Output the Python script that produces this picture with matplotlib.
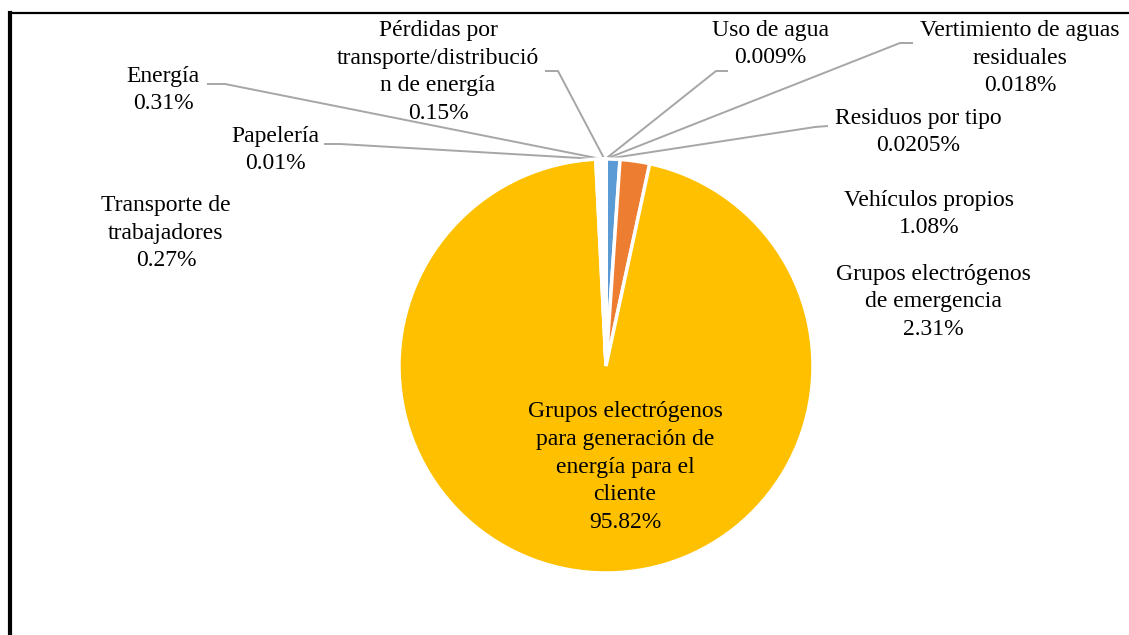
import matplotlib
matplotlib.use("Agg")
import matplotlib.pyplot as plt
import numpy as np

labels = ["Vehículos propios", "Grupos electrógenos\nde emergencia",
          "Grupos electrógenos\npara generación de\nenergía para el\ncliente",
          "Transporte de\ntrabajadores", "Papelería", "Energía",
          "Pérdidas por\ntransporte/distribució\nn de energía",
          "Uso de agua", "Vertimiento de aguas\nresiduales", "Residuos por tipo"]
values = [1.08, 2.31, 95.82, 0.27, 0.01, 0.31, 0.15, 0.009, 0.018, 0.0205]
pct_text = ["1.08%", "2.31%", "95.82%", "0.27%", "0.01%", "0.31%", "0.15%",
            "0.009%", "0.018%", "0.0205%"]
colors = ["#5B9BD5", "#ED7D31", "#FFC000", "white", "white", "white", "white",
          "white", "white", "white"]

W, H = 1129, 635
fig = plt.figure(figsize=(W / 100, H / 100), dpi=100)
ax = fig.add_axes([0, 0, 1, 1])
ax.set_xlim(0, W)
ax.set_ylim(0, H)
ax.set_aspect("equal")
ax.axis("off")

def P(x, y):
    return x, H - y

cx, cy = P(606, 366)
R = 207
wedges, _ = ax.pie(values, colors=colors, startangle=90, counterclock=False,
                   center=(cx, cy), radius=R,
                   wedgeprops=dict(edgecolor="white", linewidth=2.5))
ax.set_xlim(0, W)
ax.set_ylim(0, H)

font = dict(family="Liberation Serif", fontsize=17, color="#000000",
            ha="center", va="center", linespacing=1.42)

# label centres (pixel coords)
label_pos = {
    0: (929, 214), 1: (933, 302), 2: (625, 467), 3: (166, 233),
    4: (275, 150), 5: (163, 90), 6: (438, 72), 7: (770, 44),
    8: (1020, 58), 9: (918, 132),
}
for i, (x, y) in label_pos.items():
    ax.text(*P(x, y), labels[i] + "\n" + pct_text[i], **font)

# leader lines: (text-side start, elbow)
leaders = {
    5: [(207, 84), (225, 84)],
    4: [(324, 144), (340, 144)],
    6: [(545, 71), (558, 71)],
    7: [(728, 71), (716, 71)],
    8: [(913, 43), (900, 43)],
    9: [(828, 126), (815, 127)],
}
for i, pts in leaders.items():
    w = wedges[i]
    ang = np.deg2rad((w.theta1 + w.theta2) / 2)
    ex, ey = cx + R * np.cos(ang), cy + R * np.sin(ang)
    xs = [P(*p)[0] for p in pts] + [ex]
    ys = [P(*p)[1] for p in pts] + [ey]
    ax.plot(xs, ys, color="#A6A6A6", lw=1.4, solid_capstyle="butt", zorder=0)

# partial frame (left and top edges)
ax.plot([10, 10], [0, H - 13], color="black", lw=3, solid_capstyle="projecting")
ax.plot([10, W + 5], [H - 13, H - 13], color="black", lw=1.6)

fig.savefig("out.png", dpi=100)
